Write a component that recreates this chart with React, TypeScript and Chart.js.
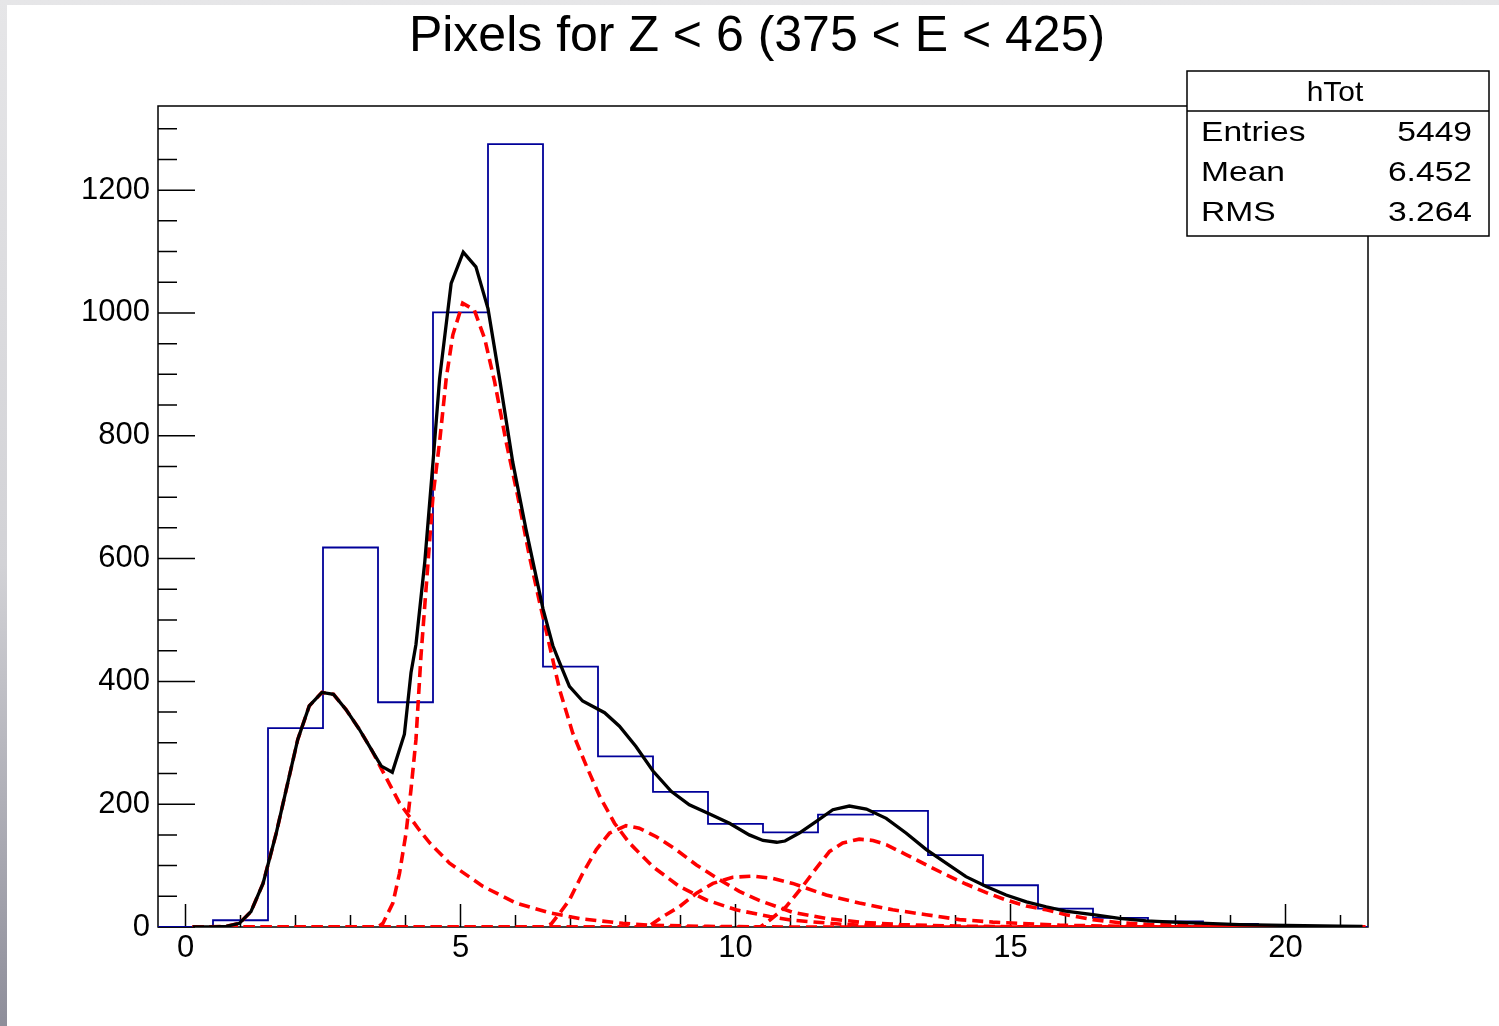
import React, { useEffect, useRef } from 'react';
import { Chart, registerables } from 'chart.js';

Chart.register(...registerables);

// ---------- data ----------
const TITLE = 'Pixels for Z < 6 (375 < E < 425)';

const binCenters = [0, 1, 2, 3, 4, 5, 6, 7, 8, 9, 10, 11, 12, 13, 14, 15, 16, 17, 18, 19, 20, 21];
const binCounts = [0, 11, 324, 618, 366, 1001, 1275, 424, 278, 220, 168, 154, 183, 189, 117, 68, 30, 15, 9, 5, 1, 0];
const binWidth = 1;

// total fit (black)
const fitX = [0.13, 0.5, 0.74, 0.98, 1.19, 1.41, 1.65, 1.86, 2.04, 2.25, 2.48, 2.69, 2.92, 3.16, 3.38, 3.56, 3.76, 3.98, 4.1, 4.19, 4.35, 4.5, 4.62, 4.83, 5.05, 5.28, 5.5, 5.71, 5.95, 6.19, 6.5, 6.68, 6.8, 6.98, 7.22, 7.62, 7.89, 8.19, 8.5, 8.83, 9.16, 9.53, 9.89, 10.25, 10.5, 10.75, 10.9, 11.16, 11.47, 11.77, 12.07, 12.38, 12.74, 13.1, 13.47, 13.83, 14.19, 14.56, 14.92, 15.29, 15.65, 16.0, 16.5, 16.98, 17.47, 17.95, 18.56, 19.16, 20.01, 20.98, 21.4];
const fitY = [0, 0, 1, 6, 25, 71, 153, 235, 305, 360, 382, 379, 354, 322, 289, 262, 252, 314, 414, 460, 594, 757, 893, 1048, 1099, 1075, 1007, 893, 757, 648, 518, 458, 431, 392, 368, 349, 327, 294, 254, 221, 199, 184, 169, 150, 141, 138, 140, 153, 172, 191, 197, 192, 177, 153, 126, 104, 82, 66, 52, 41, 33, 26, 20, 14, 10, 8, 6, 4, 2.5, 1.5, 1];

// fit components (red dashed)
const comp1X = [0.13, 0.74, 0.98, 1.19, 1.41, 1.65, 1.86, 2.04, 2.25, 2.48, 2.69, 2.92, 3.16, 3.38, 3.56, 3.89, 4.07, 4.25, 4.44, 4.8, 5.41, 6.01, 6.62, 7.22, 7.95, 8.44, 9.5, 11, 21.45];
const comp1Y = [0, 1, 6, 25, 71, 153, 235, 305, 360, 382, 379, 354, 322, 289, 258, 202, 180, 158, 137, 104, 66, 39, 23, 13, 6, 3, 1, 0, 0];

const comp2X = [0.13, 3.5, 3.59, 3.77, 3.89, 4.01, 4.1, 4.19, 4.28, 4.41, 4.5, 4.62, 4.74, 4.86, 5.04, 5.25, 5.44, 5.62, 5.83, 6.04, 6.25, 6.44, 6.62, 6.8, 7.04, 7.29, 7.53, 7.8, 8.07, 8.5, 8.98, 9.47, 10.01, 10.62, 11.04, 12, 13, 14, 21.45];
const comp2Y = [0, 0, 6, 39, 87, 153, 224, 305, 440, 594, 702, 790, 893, 964, 1016, 1005, 958, 888, 790, 702, 605, 528, 458, 387, 316, 262, 213, 169, 137, 98, 66, 44, 28, 17, 11, 4, 1, 0, 0];

const comp3X = [0.13, 6.5, 6.65, 6.8, 6.98, 7.22, 7.47, 7.71, 8.01, 8.25, 8.56, 8.92, 9.29, 9.71, 10.07, 10.44, 11.04, 11.65, 12.25, 13, 14, 15.5, 21.45];
const comp3Y = [0, 0, 5, 22, 44, 87, 126, 153, 165, 161, 147, 126, 101, 77, 58, 43, 24, 14, 8, 4, 1.5, 0, 0];

const comp4X = [0.13, 8.4, 8.68, 8.98, 9.29, 9.59, 9.95, 10.32, 10.68, 11.04, 11.65, 12.25, 12.86, 13.47, 14.07, 14.68, 15.89, 17, 18, 21.45];
const comp4Y = [0, 0, 17, 33, 55, 71, 81, 83, 79, 71, 52, 39, 28, 20, 12, 8, 3, 1, 0, 0];

const comp5X = [0.13, 10.45, 10.62, 10.92, 11.22, 11.47, 11.71, 11.95, 12.25, 12.5, 12.74, 13.1, 13.47, 13.83, 14.19, 14.56, 14.92, 15.29, 15.65, 16.01, 16.5, 16.98, 17.53, 18.5, 20, 21.45];
const comp5Y = [0, 0, 11, 33, 66, 96, 123, 137, 143, 141, 134, 118, 101, 85, 70, 56, 44, 34, 28, 20, 12, 7, 4, 1.5, 0.5, 0];

// axes
const xMin = -0.5;
const xMax = 21.5;
const yMin = 0;
const yMax = 1337;
const xTickValues = [0, 5, 10, 15, 20];
const yTickValues = [0, 200, 400, 600, 800, 1000, 1200];
const xMinorStep = 1;
const yMinorStep = 50;

// stats box
const statsName = 'hTot';
const statsLabels = ['Entries', 'Mean', 'RMS'];
const statsValues = ['5449', '6.452', '3.264'];

// ---------- helpers ----------
const FONT = "'Liberation Sans', Arial, Helvetica, sans-serif";

const zip = (xs: number[], ys: number[]) => xs.map((x, i) => ({ x, y: ys[i] }));

const histPoints = () => {
  const pts: { x: number; y: number }[] = [];
  binCenters.forEach((c, i) => {
    pts.push({ x: c - binWidth / 2, y: binCounts[i] });
    pts.push({ x: c + binWidth / 2, y: binCounts[i] });
  });
  return pts;
};

const framePlugin = {
  id: 'rootFrame',
  beforeDatasetsDraw(chart: any) {
    const { ctx, chartArea: a, scales } = chart;
    const xs = scales.x;
    const ys = scales.y;
    ctx.save();
    ctx.strokeStyle = '#000';
    ctx.lineWidth = 1.5;
    ctx.strokeRect(a.left, a.top, a.right - a.left, a.bottom - a.top);
    ctx.beginPath();
    for (let v = Math.ceil(xMin); v <= xMax + 1e-9; v += xMinorStep) {
      const px = xs.getPixelForValue(v);
      const len = xTickValues.includes(v) ? 23 : 12;
      ctx.moveTo(px, a.bottom);
      ctx.lineTo(px, a.bottom - len);
    }
    for (let v = yMin; v <= yMax + 1e-9; v += yMinorStep) {
      const py = ys.getPixelForValue(v);
      const len = yTickValues.includes(v) ? 37 : 19;
      ctx.moveTo(a.left, py);
      ctx.lineTo(a.left + len, py);
    }
    ctx.stroke();
    ctx.restore();
  },
};

const statsPlugin = {
  id: 'rootStats',
  afterDraw(chart: any) {
    const { ctx } = chart;
    const bx = 1180, by = 66, bw = 302, bh = 165, divY = 106;
    ctx.save();
    ctx.fillStyle = '#fff';
    ctx.fillRect(bx, by, bw, bh);
    ctx.strokeStyle = '#000';
    ctx.lineWidth = 1.5;
    ctx.strokeRect(bx, by, bw, bh);
    ctx.beginPath();
    ctx.moveTo(bx, divY);
    ctx.lineTo(bx + bw, divY);
    ctx.stroke();
    ctx.fillStyle = '#000';
    ctx.font = `28px ${FONT}`;
    ctx.textBaseline = 'middle';
    const drawText = (t: string, x: number, y: number, align: CanvasTextAlign, sx: number) => {
      ctx.save();
      ctx.translate(x, y);
      ctx.scale(sx, 1);
      ctx.textAlign = align;
      ctx.fillText(t, 0, 0);
      ctx.restore();
    };
    drawText(statsName, bx + bw / 2 - 3, 88, 'center', 1.07);
    const rowY = [128, 168, 208];
    statsLabels.forEach((l, i) => {
      drawText(l, bx + 14, rowY[i], 'left', 1.2);
      drawText(statsValues[i], bx + bw - 17, rowY[i], 'right', 1.2);
    });
    ctx.restore();
  },
};

export default function App() {
  const ref = useRef<HTMLCanvasElement | null>(null);

  useEffect(() => {
    if (!ref.current) return;
    const red = '#ff0000';
    const dash = [11, 6];
    const comps = [
      zip(comp1X, comp1Y),
      zip(comp2X, comp2Y),
      zip(comp3X, comp3Y),
      zip(comp4X, comp4Y),
      zip(comp5X, comp5Y),
    ];
    const chart = new Chart(ref.current, {
      type: 'line',
      data: {
        datasets: [
          {
            label: 'total fit',
            data: zip(fitX, fitY),
            borderColor: '#000',
            borderWidth: 3.3,
            pointRadius: 0,
            tension: 0,
            fill: false,
            order: 0,
          },
          ...comps.map((d, i) => ({
            label: `component ${i + 1}`,
            data: d,
            borderColor: red,
            borderWidth: 3.6,
            borderDash: dash,
            pointRadius: 0,
            tension: 0,
            fill: false,
            order: 1,
          })),
          {
            label: statsName,
            data: histPoints(),
            borderColor: '#000099',
            borderWidth: 1.8,
            pointRadius: 0,
            tension: 0,
            fill: false,
            order: 2,
          },
        ],
      },
      options: {
        responsive: false,
        animation: false,
        devicePixelRatio: 1,
        layout: { padding: { left: 8, right: 0, top: 0, bottom: 0 } },
        plugins: {
          legend: { display: false },
          tooltip: { enabled: false },
          title: {
            display: true,
            text: TITLE,
            color: '#000',
            font: { family: FONT, size: 50, weight: 'normal' },
            padding: { top: 2, bottom: 39 },
          },
        },
        scales: {
          x: {
            type: 'linear',
            min: xMin,
            max: xMax,
            afterBuildTicks: (s: any) => {
              s.ticks = xTickValues.map((v) => ({ value: v }));
            },
            afterFit: (s: any) => {
              s.height = 99;
            },
            grid: { display: false, drawTicks: false },
            border: { display: false },
            ticks: {
              color: '#000',
              font: { family: FONT, size: 31 },
              padding: 3,
              maxRotation: 0,
              autoSkip: false,
              callback: (v: any) => String(v),
            },
          },
          y: {
            type: 'linear',
            position: 'left',
            min: yMin,
            max: yMax,
            afterBuildTicks: (s: any) => {
              s.ticks = yTickValues.map((v) => ({ value: v }));
            },
            afterFit: (s: any) => {
              s.width = 143;
            },
            grid: { display: false, drawTicks: false },
            border: { display: false },
            ticks: {
              color: '#000',
              font: { family: FONT, size: 31 },
              padding: 8,
              autoSkip: false,
              callback: (v: any) => String(v),
            },
          },
          yRightSpace: {
            type: 'linear',
            position: 'right',
            min: 0,
            max: 1,
            afterFit: (s: any) => {
              s.width = 131;
            },
            grid: { display: false, drawTicks: false },
            border: { display: false },
            ticks: { display: false },
          },
        },
      } as any,
      plugins: [framePlugin, statsPlugin],
    });
    return () => chart.destroy();
  }, []);

  return (
    <div
      style={{
        position: 'fixed',
        left: 0,
        top: 0,
        width: 1499,
        height: 1026,
        background: 'linear-gradient(180deg, #e6e6e8 0%, #d2d2d6 55%, #8e8e9a 100%)',
        overflow: 'hidden',
      }}
    >
      <canvas
        ref={ref}
        width={1492}
        height={1021}
        style={{ position: 'absolute', left: 7, top: 5, width: 1492, height: 1021, background: '#fff' }}
      />
    </div>
  );
}
